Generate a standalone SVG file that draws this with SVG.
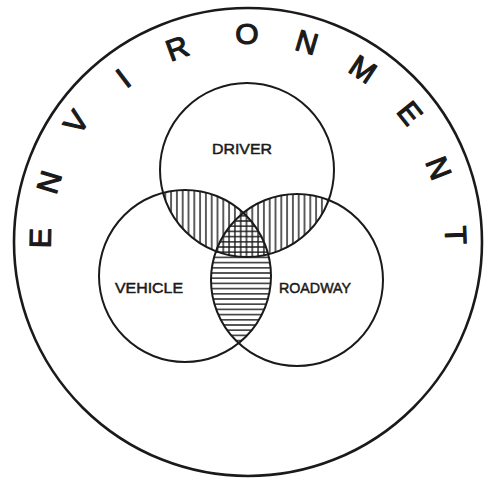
<svg xmlns="http://www.w3.org/2000/svg" width="487" height="478" viewBox="0 0 487 478">
<style>
  .ring{fill:none;stroke:#1a1a1a;stroke-width:2}
  .outer{fill:none;stroke:#1a1a1a;stroke-width:2.6}
  .env{font-family:"Liberation Sans",Arial,sans-serif;font-size:30px;fill:#1a1a1a;text-anchor:middle;stroke:#1a1a1a;stroke-width:1.2;stroke-linejoin:round}
  .lbl{font-family:"Liberation Sans",Arial,sans-serif;font-size:15.5px;fill:#1a1a1a;stroke:#1a1a1a;stroke-width:0.5}
</style>
<defs>
  <pattern id="vert" patternUnits="userSpaceOnUse" width="5.8" height="10" x="0" y="0">
    <line x1="2.9" y1="-1" x2="2.9" y2="11" stroke="#1a1a1a" stroke-width="1.4"/>
  </pattern>
  <pattern id="horiz" patternUnits="userSpaceOnUse" width="10" height="5.2" x="0" y="0">
    <line x1="-1" y1="2.6" x2="11" y2="2.6" stroke="#1a1a1a" stroke-width="1.4"/>
  </pattern>
  <clipPath id="cD"><circle cx="247" cy="170" r="87"/></clipPath>
  <clipPath id="cV"><circle cx="185" cy="276" r="86"/></clipPath>
  <clipPath id="cR"><circle cx="297" cy="280" r="86"/></clipPath>
  <clipPath id="cVR"><circle cx="185" cy="276" r="86"/><circle cx="297" cy="280" r="86"/></clipPath>
</defs>
<rect width="487" height="478" fill="#ffffff"/>

<g id="hatching">
  <g clip-path="url(#cD)">
    <g clip-path="url(#cVR)">
      <rect x="150" y="180" width="200" height="90" fill="url(#vert)"/>
    </g>
  </g>
  <g clip-path="url(#cV)">
    <g clip-path="url(#cR)">
      <rect x="200" y="200" width="90" height="150" fill="url(#horiz)"/>
    </g>
  </g>
</g>

<g id="environment">
  <circle class="outer" cx="248" cy="242" r="234"/>
  <g class="env">
    <text transform="translate(40,238) rotate(-89)" y="10.7">E</text>
    <text transform="translate(49,182) rotate(-73.2)" y="10.7">N</text>
    <text transform="translate(76,122) rotate(-55.1)" y="10.7">V</text>
    <text transform="translate(123,78) rotate(-37.3)" y="10.7">I</text>
    <text transform="translate(177,48) rotate(-19.9)" y="10.7">R</text>
    <text transform="translate(247,33) rotate(0)" y="10.7">O</text>
    <text transform="translate(307,42) rotate(16.4)" y="10.7">N</text>
    <text transform="translate(363,69) rotate(33.6)" y="10.7">M</text>
    <text transform="translate(410,113) rotate(51.5)" y="10.7">E</text>
    <text transform="translate(439,168) rotate(68.8)" y="10.7">N</text>
    <text transform="translate(456,235) rotate(88)" y="10.7">T</text>
  </g>
</g>

<g id="driver">
  <circle class="ring" cx="247" cy="170" r="87"/>
  <text class="lbl" x="212" y="154" textLength="60" lengthAdjust="spacingAndGlyphs">DRIVER</text>
</g>

<g id="vehicle">
  <circle class="ring" cx="185" cy="276" r="86"/>
  <text class="lbl" x="115" y="293" textLength="68" lengthAdjust="spacingAndGlyphs">VEHICLE</text>
</g>

<g id="roadway">
  <circle class="ring" cx="297" cy="280" r="86"/>
  <text class="lbl" x="279" y="293" textLength="72" lengthAdjust="spacingAndGlyphs">ROADWAY</text>
</g>
</svg>
